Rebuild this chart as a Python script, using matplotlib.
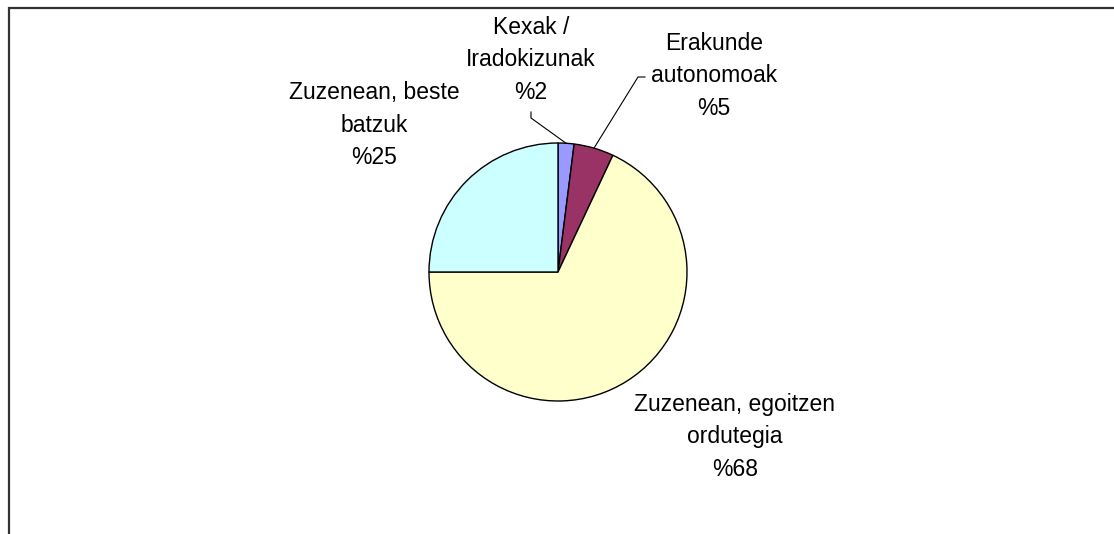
import numpy as np
import matplotlib.pyplot as plt
from matplotlib.patches import Rectangle

labels = ["Kexak /\nIradokizunak", "Erakunde\nautonomoak",
          "Zuzenean, egoitzen\nordutegia", "Zuzenean, beste\nbatzuk"]
values = [2, 5, 68, 25]
colors = ["#9999FF", "#993366", "#FFFFCC", "#CCFFFF"]

W, H = 1114, 534
fig = plt.figure(figsize=(W / 100, H / 100), dpi=100)
ax = fig.add_axes([0, 0, 1, 1])
ax.set_xlim(0, W)
ax.set_ylim(0, H)
ax.axis('off')

cx, cy, r = 558, H - 272, 129
wedges, _ = ax.pie(values, colors=colors, startangle=90, counterclock=False,
                   center=(cx, cy), radius=r,
                   wedgeprops=dict(edgecolor='black', linewidth=1))
ax.set_xlim(0, W)
ax.set_ylim(0, H)
ax.set_aspect('equal')

# label positions (pixel coords, top-left origin) and leader line starts
label_pos = [(531, 60), (714, 76), (735, 437), (374, 125)]
leaders = [(531, 118), (638, 77), None, None]

font = dict(family=['Liberation Sans', 'DejaVu Sans'], fontsize=16.5)
for w, lab, v, (lx, ly), ld in zip(wedges, labels, values, label_pos, leaders):
    ax.text(lx, H - ly, lab + "\n%" + str(v), ha='center', va='center',
            linespacing=1.52, **font)
    if ld is not None:
        ang = np.deg2rad((w.theta1 + w.theta2) / 2)
        ex, ey = cx + r * np.cos(ang), cy + r * np.sin(ang)
        sx, sy = ld[0], H - ld[1]
        if ld[0] > cx + 50:
            ax.plot([sx + 7, sx, ex], [sy, sy, ey], color='black', lw=0.8)
        else:
            ax.plot([sx, sx, ex], [sy + 6, sy, ey], color='black', lw=0.8)

# outer chart frame (only top/left visible)
fig.patches.append(Rectangle((8.5 / W, -0.1), 1.2, (H - 8.5) / H + 0.1,
                             transform=fig.transFigure, fill=False,
                             edgecolor='#333333', linewidth=1.6))

fig.savefig("out.png", dpi=100)
